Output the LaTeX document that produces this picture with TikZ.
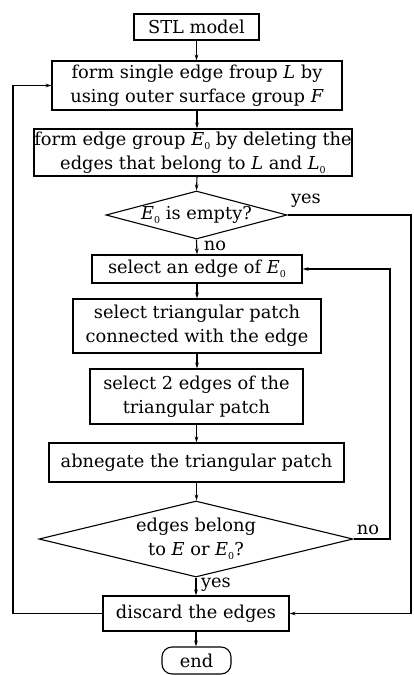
\documentclass[tikz,border=0pt]{standalone}
\usepackage{fontspec}
\setmainfont{DejaVu Serif}
\usetikzlibrary{shapes.geometric,arrows.meta}
% subscript zero used in the group names
\newcommand{\zsub}{\raisebox{-0.45ex}{\fontsize{9.5}{9.5}\selectfont 0}}
\begin{document}
\begin{tikzpicture}[x=1pt,y=-1pt,
  every node/.style={font=\fontsize{17.8}{24}\selectfont},
  box/.style={draw,line width=1.1pt,inner sep=0pt,align=center},
  decision/.style={draw,line width=1.1pt,diamond,inner sep=0pt},
  terminal/.style={draw,line width=1.1pt,rounded corners=10pt,inner sep=0pt},
  flow/.style={line width=1.1pt,-{Stealth[length=6pt,width=3.6pt]}},
  lbl/.style={inner sep=0pt}]
\useasboundingbox (0,0) rectangle (413,675);

\node[box,minimum width=125pt,minimum height=26pt] (stl) at (196.5,27) {STL model};
\node[box,minimum width=290pt,minimum height=49pt] (single) at (197,85.5)
  {form single edge froup \textit{L} by\\using outer surface group \textit{F}};
\node[box,minimum width=318pt,minimum height=47pt] (group) at (193,152.5)
  {form edge group \textit{E}\zsub\ by deleting the\\edges that belong to \textit{L} and \textit{L}\zsub};
\node[decision,minimum width=181pt,minimum height=48pt,
  label=center:{\textit{E}\zsub\ is empty?}] (empty) at (196.5,215) {};
\node[box,minimum width=210pt,minimum height=28pt] (pick) at (197,269)
  {select an edge of \textit{E}\zsub};
\node[box,minimum width=248pt,minimum height=54pt] (patch) at (197,326)
  {select triangular patch\\connected with the edge};
\node[box,minimum width=213pt,minimum height=55pt] (two) at (196.5,396.5)
  {select 2 edges of the\\triangular patch};
\node[box,minimum width=295pt,minimum height=39pt] (abn) at (196.5,462.5)
  {abnegate the triangular patch};
\node[decision,minimum width=314pt,minimum height=76pt,
  label={[align=center]center:{edges belong\\to \textit{E} or \textit{E}\zsub?}}] (belong) at (196,539) {};
\node[box,minimum width=186pt,minimum height=35pt] (discard) at (196,613.5)
  {discard the edges};
\node[terminal,minimum width=69pt,minimum height=27pt] (end) at (196.5,660.5) {end};

% corner points of the loop lines
\coordinate (yesR) at (411,215);
\coordinate (noR) at (390,539);
\coordinate (backL) at (13,613.5);

% main sequence
\draw[flow] (stl.south) -- (stl.south |- single.north);
\draw[flow] (single.south) -- (single.south |- group.north);
\draw[flow] (single.south |- group.south) -- (empty.north);
\draw[flow] (empty.south) -- (pick.north);
\draw[flow] (pick.south) -- (patch.north);
\draw[flow] (patch.south) -- (patch.south |- two.north);
\draw[flow] (two.south) -- (two.south |- abn.north);
\draw[flow] (abn.south) -- (abn.south |- belong.north);
\draw[flow] (belong.south) -- (belong.south |- discard.north);
\draw[flow] (discard.south) -- (discard.south |- end.north);

% loops
\draw[flow] (empty.east) -- (yesR) -- (yesR |- discard.east) -- (discard.east);
\draw[flow] (belong.east) -- (noR) -- (noR |- pick.east) -- (pick.east);
\draw[flow] (discard.west) -- (backL) -- (backL |- single.west) -- (single.west);

% branch labels
\node[lbl] (yes1) at (306,201) {yes};
\node[lbl] (no1) at (215,246) {no};
\node[lbl] (no2) at (368,530) {no};
\node[lbl] (yes2) at (216,585) {yes};
\end{tikzpicture}
\end{document}
